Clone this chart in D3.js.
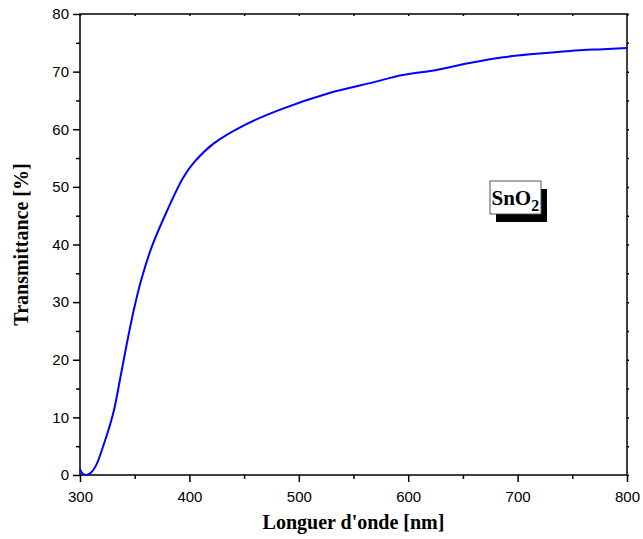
<!DOCTYPE html>
<html>
<head>
<meta charset="utf-8">
<script src="https://cdn.jsdelivr.net/npm/d3@7"></script>
<style>
  body { margin: 0; background: #fff; }
  svg { display: block; }
</style>
</head>
<body>
<div id="chart"></div>
<script>
// Transmittance spectrum of SnO2 film
const wavelength = [300, 302, 305, 310, 315, 321, 326, 331, 337, 342, 349, 356, 366, 379, 394,
  404, 422, 449, 483, 528, 565, 595, 626, 656, 687, 717, 748, 778, 800];
const transmittance = [1.0, 0.3, 0.0, 0.4, 1.8, 4.9, 7.8, 11.2, 17.0, 22.0, 28.5, 33.9, 39.8, 45.6, 51.5,
  54.2, 57.5, 60.6, 63.4, 66.3, 68.0, 69.4, 70.3, 71.5, 72.5, 73.1, 73.6, 73.9, 74.1];
const xTicks = [300, 400, 500, 600, 700, 800];
const yTicks = [0, 10, 20, 30, 40, 50, 60, 70, 80];
const legendLabel = "SnO";

const width = 643, height = 539;
const margin = { top: 14, right: 16, bottom: 64, left: 80 };

const svg = d3.select("#chart").append("svg")
  .attr("width", width).attr("height", height);

const x = d3.scaleLinear().domain([300, 800]).range([margin.left, width - margin.right]);
const y = d3.scaleLinear().domain([0, 80]).range([height - margin.bottom, margin.top]);

const data = wavelength.map((w, i) => ({ w, t: transmittance[i] }));

// Frame
svg.append("rect")
  .attr("x", x(300)).attr("y", y(80))
  .attr("width", x(800) - x(300)).attr("height", y(0) - y(80))
  .attr("fill", "none").attr("stroke", "#000").attr("stroke-width", 1.5);

const minorX = d3.range(350, 800, 100);
const minorY = d3.range(5, 80, 10);

// Bottom axis
const bottom = svg.append("g").attr("transform", `translate(0,${y(0)})`)
  .call(d3.axisBottom(x).tickValues(xTicks).tickSize(7).tickPadding(9).tickSizeOuter(0));
bottom.append("g").call(d3.axisBottom(x).tickValues(minorX).tickSize(4).tickFormat("").tickSizeOuter(0));

// Left axis
const left = svg.append("g").attr("transform", `translate(${x(300)},0)`)
  .call(d3.axisLeft(y).tickValues(yTicks).tickSize(7).tickPadding(4).tickSizeOuter(0));
left.append("g").call(d3.axisLeft(y).tickValues(minorY).tickSize(4).tickFormat("").tickSizeOuter(0));

// Top and right axes, ticks only
svg.append("g").attr("transform", `translate(0,${y(80)})`)
  .call(d3.axisBottom(x).tickValues(xTicks.concat(minorX)).tickSize(2).tickFormat("").tickSizeOuter(0));
svg.append("g").attr("transform", `translate(${x(800)},0)`)
  .call(d3.axisRight(y).tickValues(yTicks.concat(minorY)).tickSize(2).tickFormat("").tickSizeOuter(0));

svg.selectAll(".domain").remove();
svg.selectAll(".tick line").attr("stroke", "#000").attr("stroke-width", 1.5);
svg.selectAll(".tick text")
  .attr("font-family", "Liberation Sans, Arial, sans-serif")
  .attr("font-size", 15).attr("fill", "#000");

// Curve
const line = d3.line()
  .x((d) => x(d.w))
  .y((d) => y(d.t))
  .curve(d3.curveCatmullRom.alpha(0.5));

svg.append("path")
  .datum(data)
  .attr("d", line)
  .attr("fill", "none")
  .attr("stroke", "#0000ff")
  .attr("stroke-width", 2);

// Axis titles
svg.append("text")
  .attr("x", (x(300) + x(800)) / 2).attr("y", 529)
  .attr("text-anchor", "middle")
  .attr("font-family", "Liberation Serif, Times New Roman, serif")
  .attr("font-weight", "bold").attr("font-size", 20)
  .text("Longuer d'onde [nm]");

svg.append("text")
  .attr("transform", `translate(28,${(y(0) + y(80)) / 2}) rotate(-90)`)
  .attr("text-anchor", "middle")
  .attr("font-family", "Liberation Serif, Times New Roman, serif")
  .attr("font-weight", "bold").attr("font-size", 20)
  .text("Transmittance [%]");

// Label box with shadow
const box = svg.append("g").attr("transform", "translate(490,181)");
box.append("rect").attr("x", 6).attr("y", 8).attr("width", 51).attr("height", 33).attr("fill", "#000");
box.append("rect").attr("x", 0).attr("y", 0).attr("width", 51).attr("height", 33)
  .attr("fill", "#fff").attr("stroke", "#555").attr("stroke-width", 1);
const lbl = box.append("text")
  .attr("x", 1.5).attr("y", 24)
  .attr("font-family", "Liberation Serif, Times New Roman, serif")
  .attr("font-weight", "bold").attr("font-size", 21);
lbl.append("tspan").text(legendLabel);
lbl.append("tspan").attr("dy", 6).attr("font-size", 16).text("2");
</script>
</body>
</html>
